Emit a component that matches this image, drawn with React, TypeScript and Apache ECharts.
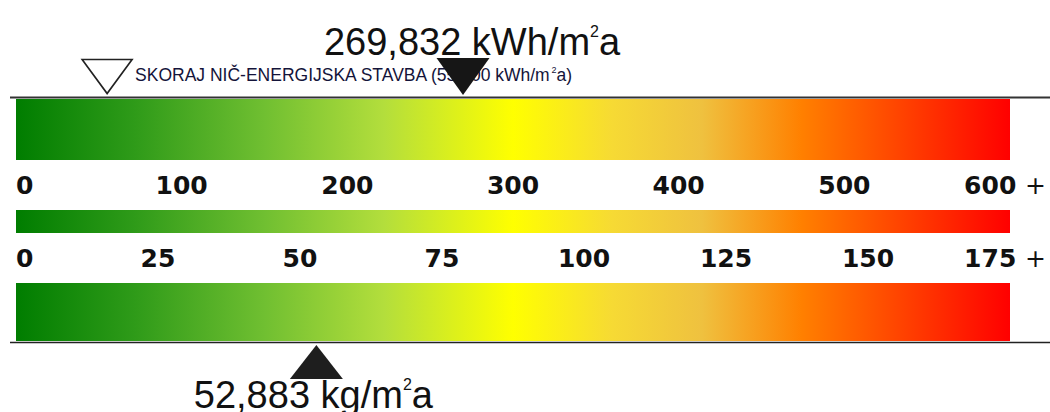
import React, { useEffect, useRef } from "react";
import * as echarts from "echarts";

// ---- data ----
const energyTicks = [0, 100, 200, 300, 400, 500, 600];
const emissionTicks = [0, 25, 50, 75, 100, 125, 150, 175];
const energyCategory = ["kWh"];
const middleCategory = ["scale"];
const emissionCategory = ["kg"];
const energyValue = [269.832];
const nzebValue = [55.0];
const emissionValue = [52.883];
const energyUnit = ["kWh/m", "2", "a"];
const emissionUnit = ["kg/m", "2", "a"];
const nzebText = "SKORAJ NIČ-ENERGIJSKA STAVBA";

const fmt = (v: number) => v.toFixed(3).replace(".", ",");

const gradStops = [
  { offset: 0, color: "#007d00" },
  { offset: 0.12, color: "#2f9b19" },
  { offset: 0.25, color: "#70bf31" },
  { offset: 0.37, color: "#b3de3c" },
  { offset: 0.5, color: "#ffff00" },
  { offset: 0.6, color: "#f6da34" },
  { offset: 0.69, color: "#efc13f" },
  { offset: 0.79, color: "#ff8000" },
  { offset: 1, color: "#ff0000" },
];

const DOWN_TRI = "path://M0,0 L10,0 L5,7 Z";

export default function App() {
  const ref = useRef<HTMLDivElement>(null);
  useEffect(() => {
    if (!ref.current) return;
    const chart = echarts.init(ref.current, undefined, { renderer: "svg" });
    const grad = () => new echarts.graphic.LinearGradient(0, 0, 1, 0, gradStops);
    const eMax = energyTicks[energyTicks.length - 1];
    const cMax = emissionTicks[emissionTicks.length - 1];
    const axisLabelBase = {
      fontFamily: "DejaVu Sans",
      fontWeight: "bold" as const,
      fontSize: 25,
      color: "#111",
      showMinLabel: true,
      showMaxLabel: true,
      alignMinLabel: "left" as const,
      rich: {
        p: { fontFamily: "DejaVu Sans", fontWeight: "normal", fontSize: 25, color: "#111", padding: [0, 10, 0, 0] },
      },
    };
    const bigRich = {
      n: { fontFamily: "Liberation Sans", fontSize: 38, color: "#111" },
      s: { fontFamily: "Liberation Sans", fontSize: 16, color: "#111", verticalAlign: "top" },
    };
    chart.setOption({
      animation: false,
      grid: [
        { left: 16, width: 994, top: 99, height: 61 },
        { left: 16, width: 994, top: 210, height: 23 },
        { left: 16, width: 994, top: 283, height: 58 },
      ],
      xAxis: [
        {
          gridIndex: 0, type: "value", min: energyTicks[0], max: eMax,
          interval: energyTicks[1] - energyTicks[0], position: "bottom",
          axisLine: { show: false }, axisTick: { show: false }, splitLine: { show: false },
          axisLabel: {
            ...axisLabelBase, margin: 13,
            formatter: (v: number) => (v === eMax ? `${v} {p|+}` : String(v)),
          },
        },
        { gridIndex: 1, type: "value", min: energyTicks[0], max: eMax, show: false },
        {
          gridIndex: 2, type: "value", min: emissionTicks[0], max: cMax,
          interval: emissionTicks[1] - emissionTicks[0], position: "top",
          axisLine: { show: false }, axisTick: { show: false }, splitLine: { show: false },
          axisLabel: {
            ...axisLabelBase, margin: 12,
            formatter: (v: number) => (v === cMax ? `${v} {p|+}` : String(v)),
          },
        },
      ],
      yAxis: [
        { gridIndex: 0, type: "category", data: energyCategory, show: false },
        { gridIndex: 1, type: "category", data: middleCategory, show: false },
        { gridIndex: 2, type: "category", data: emissionCategory, show: false },
      ],
      graphic: [
        { type: "line", shape: { x1: 10, y1: 97.5, x2: 1050, y2: 97.5 }, style: { stroke: "#333", lineWidth: 2 }, z: 10 },
        { type: "line", shape: { x1: 10, y1: 342.5, x2: 1050, y2: 342.5 }, style: { stroke: "#222", lineWidth: 1.5 }, z: 10 },
      ],
      series: [
        {
          type: "bar", xAxisIndex: 0, yAxisIndex: 0, data: [eMax], barWidth: "100%",
          itemStyle: { color: grad() }, silent: true,
        },
        {
          type: "bar", xAxisIndex: 1, yAxisIndex: 1, data: [eMax], barWidth: "100%",
          itemStyle: { color: grad() }, silent: true,
        },
        {
          type: "bar", xAxisIndex: 2, yAxisIndex: 2, data: [cMax], barWidth: "100%",
          itemStyle: { color: grad() }, silent: true,
        },
        {
          type: "scatter", xAxisIndex: 0, yAxisIndex: 0, clip: false, z: 3,
          data: nzebValue.map((v, i) => [v, energyCategory[i]]),
          symbol: DOWN_TRI, symbolSize: [50, 34], symbolOffset: [0, -53],
          itemStyle: { color: "#fff", borderColor: "#222", borderWidth: 1.6, opacity: 1 },
          label: {
            show: true, position: "right", distance: 2, offset: [0, -2],
            formatter: (p: any) => `{t|${nzebText} (${fmt(p.value[0])} kWh/m}{s|2}{t|a)}`,
            rich: {
              t: { fontFamily: "Liberation Sans", fontSize: 17.5, color: "#14143a" },
              s: { fontFamily: "Liberation Sans", fontSize: 9, color: "#14143a", verticalAlign: "top" },
            },
          },
        },
        {
          type: "scatter", xAxisIndex: 0, yAxisIndex: 0, clip: false, z: 4,
          data: energyValue.map((v, i) => [v, energyCategory[i]]),
          symbol: DOWN_TRI, symbolSize: [53, 37], symbolOffset: [0, -53],
          itemStyle: { color: "#161616", opacity: 1 },
          label: {
            show: true, position: "top", distance: 0, offset: [9, 3],
            formatter: (p: any) => `{n|${fmt(p.value[0])} ${energyUnit[0]}}{s|${energyUnit[1]}}{n|${energyUnit[2]}}`,
            rich: bigRich,
          },
        },
        {
          type: "scatter", xAxisIndex: 2, yAxisIndex: 2, clip: false, z: 4,
          data: emissionValue.map((v, i) => [v, emissionCategory[i]]),
          symbol: "triangle", symbolSize: [53, 34], symbolOffset: [0, 50],
          itemStyle: { color: "#1e1e1e", opacity: 1 },
          label: {
            show: true, position: "bottom", distance: 0, offset: [-3, -3],
            formatter: (p: any) => `{n|${fmt(p.value[0])} ${emissionUnit[0]}}{s|${emissionUnit[1]}}{n|${emissionUnit[2]}}`,
            rich: bigRich,
          },
        },
      ],
    });
    return () => chart.dispose();
  }, []);
  return (
    <div
      ref={ref}
      style={{ position: "fixed", left: 0, top: 0, width: 1050, height: 412, background: "#fff" }}
    />
  );
}
